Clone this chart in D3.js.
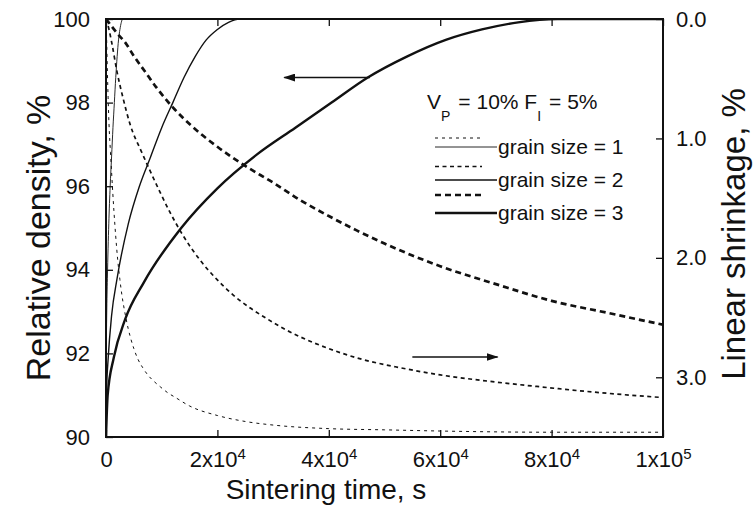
<!DOCTYPE html>
<html>
<head>
<meta charset="utf-8">
<script src="https://cdn.jsdelivr.net/npm/d3@7"></script>
<style>
  body { margin: 0; background: #fff; }
  text { font-family: "Liberation Sans", Arial, sans-serif; fill: #111; }
</style>
</head>
<body>
<svg id="chart" width="754" height="524"></svg>
<script>
// ---- data ----
var xTicks = [0, 20000, 40000, 60000, 80000, 100000];
var xTickBase = ["0", "2x10", "4x10", "6x10", "8x10", "1x10"];
var xTickExp = ["", "4", "4", "4", "4", "5"];
var densityTicks = [90, 92, 94, 96, 98, 100];
var shrinkTicks = [0, 1, 2, 3];
var shrinkTickLabels = ["0.0", "1.0", "2.0", "3.0"];
var legendLabels = ["grain size = 1", "grain size = 2", "grain size = 3"];

// relative density (%), left axis
var dens1Time = [0, 15, 50, 125, 250, 500, 750, 1000, 1250, 1500, 1750, 2000, 2250, 2500, 2750, 3000, 100000];
var dens1 = [90, 91.0, 91.9, 92.9, 93.8, 95.1, 96.0, 96.7, 97.4, 98.0, 98.6, 99.1, 99.5, 99.75, 99.92, 100, 100];
var dens2Time = [0, 100, 400, 1000, 2000, 4000, 6000, 8000, 10000, 12000, 14000, 16000, 18000, 20000, 22000, 24000, 100000];
var dens2 = [90, 91.1, 91.9, 92.9, 93.8, 95.1, 96.0, 96.7, 97.4, 98.0, 98.6, 99.1, 99.5, 99.75, 99.92, 100, 100];
var dens3Time = [0, 300, 1400, 3400, 6800, 13500, 20000, 27000, 34000, 40500, 47000, 54000, 61000, 67500, 74000, 81000, 100000];
var dens3 = [90, 91.0, 91.9, 92.8, 93.7, 95.0, 95.95, 96.75, 97.4, 98.0, 98.6, 99.1, 99.5, 99.75, 99.92, 100, 100];

// linear shrinkage (%), right axis
var shr1Time = [0, 60, 135, 250, 380, 540, 810, 990, 1210, 1440, 1730, 2110, 2490, 2850, 3240, 3610, 3970, 4350, 5000, 5750, 6600, 7500, 8750, 9750, 11100, 12500, 15000, 20000, 25000, 30000, 40000, 50000, 60000, 80000, 100000];
var shr1 = [0, 0.08, 0.21, 0.44, 0.66, 0.88, 1.12, 1.27, 1.45, 1.62, 1.81, 2.02, 2.18, 2.31, 2.42, 2.51, 2.59, 2.66, 2.76, 2.85, 2.92, 2.98, 3.04, 3.08, 3.13, 3.17, 3.24, 3.32, 3.37, 3.40, 3.43, 3.44, 3.45, 3.46, 3.46];
var shr2Time = [0, 500, 1080, 1970, 3050, 4310, 6460, 7900, 9700, 11500, 13800, 16900, 19900, 22800, 25900, 28900, 31800, 34800, 40000, 46000, 52800, 60000, 70000, 78000, 89000, 100000];
var shr2 = [0, 0.08, 0.21, 0.44, 0.66, 0.88, 1.12, 1.27, 1.45, 1.62, 1.81, 2.02, 2.18, 2.31, 2.42, 2.51, 2.59, 2.66, 2.76, 2.85, 2.92, 2.98, 3.04, 3.08, 3.13, 3.17];
var shr3Time = [0, 1000, 2000, 3500, 5000, 7000, 9000, 12000, 15000, 20000, 25000, 30000, 35000, 40000, 45000, 50000, 55000, 60000, 70000, 80000, 90000, 100000];
var shr3 = [0, 0.06, 0.12, 0.20, 0.31, 0.44, 0.57, 0.74, 0.88, 1.07, 1.23, 1.37, 1.52, 1.65, 1.77, 1.88, 1.98, 2.07, 2.22, 2.36, 2.46, 2.56];

// arrows: [t start, t end, value]
var densityArrow = [47400, 32000, 98.6];
var shrinkArrow = [55000, 70300, 2.83];

// ---- layout ----
var svg = d3.select("#chart");
var margin = { top: 19, right: 91, bottom: 87, left: 106 };
var W = 754, H = 524;
var x = d3.scaleLinear().domain([0, 100000]).range([margin.left, W - margin.right]);
var yL = d3.scaleLinear().domain([90, 100]).range([H - margin.bottom, margin.top]);
var yR = d3.scaleLinear().domain([0, 3.5]).range([margin.top, H - margin.bottom]);

var solidWidth = [0.9, 1.4, 2.4];
var dashWidth = [1.0, 1.7, 2.7];
var dashArray = ["3,4", "4,3.5", "6,4"];

svg.append("defs").append("marker")
    .attr("id", "head")
    .attr("viewBox", "0 0 12 8")
    .attr("refX", 11).attr("refY", 4)
    .attr("markerWidth", 12).attr("markerHeight", 8)
    .attr("markerUnits", "userSpaceOnUse")
    .attr("orient", "auto")
    .append("path").attr("d", "M0,0L12,4L0,8Z").attr("fill", "#111");

svg.select("defs").append("clipPath").attr("id", "plotclip")
    .append("rect")
    .attr("x", x(0)).attr("y", yL(100) - 1)
    .attr("width", x(100000) - x(0)).attr("height", yL(90) - yL(100) + 2);

// axes (ticks point inwards)
var gx = svg.append("g").attr("transform", "translate(0," + yL(90) + ")")
    .call(d3.axisBottom(x).tickValues(xTicks).tickSizeInner(-7).tickSizeOuter(0).tickPadding(14));
gx.selectAll(".tick text").each(function(d, i) {
    var t = d3.select(this);
    t.text(xTickBase[i]);
    if (xTickExp[i]) t.append("tspan").attr("dy", "-0.5em").attr("font-size", "15px").text(xTickExp[i]);
});

svg.append("g").attr("transform", "translate(0," + yL(100) + ")")
    .call(d3.axisTop(x).tickValues(xTicks).tickSizeInner(-7).tickSizeOuter(0).tickFormat(""));

svg.append("g").attr("transform", "translate(" + x(0) + ",0)")
    .call(d3.axisLeft(yL).tickValues(densityTicks).tickSizeInner(-7).tickSizeOuter(0).tickPadding(16));

svg.append("g").attr("transform", "translate(" + x(100000) + ",0)")
    .call(d3.axisRight(yR).tickValues(shrinkTicks).tickSizeInner(-7).tickSizeOuter(0).tickPadding(13)
        .tickFormat(function(d, i) { return shrinkTickLabels[i]; }));

svg.selectAll(".domain").remove();
svg.selectAll(".tick line").attr("stroke", "#111").attr("stroke-width", 1.3);
svg.selectAll(".tick text").attr("font-size", "22px").attr("fill", "#111")
    .style("font-family", "'Liberation Sans', Arial, sans-serif");

// frame
svg.append("rect")
    .attr("x", x(0)).attr("y", yL(100))
    .attr("width", x(100000) - x(0)).attr("height", yL(90) - yL(100))
    .attr("fill", "none").attr("stroke", "#111").attr("stroke-width", 2);

// curves
var plot = svg.append("g").attr("clip-path", "url(#plotclip)");
var densSeries = [[dens1Time, dens1], [dens2Time, dens2], [dens3Time, dens3]];
var shrSeries = [[shr1Time, shr1], [shr2Time, shr2], [shr3Time, shr3]];

var densLine = d3.line().x(function(d) { return x(d[0]); }).y(function(d) { return yL(d[1]); }).curve(d3.curveMonotoneX);
var shrLine = d3.line().x(function(d) { return x(d[0]); }).y(function(d) { return yR(d[1]); }).curve(d3.curveMonotoneX);

shrSeries.forEach(function(s, i) {
    plot.append("path")
        .datum(d3.zip(s[0], s[1]))
        .attr("d", shrLine)
        .attr("fill", "none").attr("stroke", "#111")
        .attr("stroke-width", dashWidth[i])
        .attr("stroke-dasharray", dashArray[i]);
});
densSeries.forEach(function(s, i) {
    plot.append("path")
        .datum(d3.zip(s[0], s[1]))
        .attr("d", densLine)
        .attr("fill", "none").attr("stroke", "#111")
        .attr("stroke-width", solidWidth[i]);
});

// arrows
svg.append("line")
    .attr("x1", x(densityArrow[0])).attr("x2", x(densityArrow[1]))
    .attr("y1", yL(densityArrow[2])).attr("y2", yL(densityArrow[2]))
    .attr("stroke", "#111").attr("stroke-width", 1.6).attr("marker-end", "url(#head)");
svg.append("line")
    .attr("x1", x(shrinkArrow[0])).attr("x2", x(shrinkArrow[1]))
    .attr("y1", yR(shrinkArrow[2])).attr("y2", yR(shrinkArrow[2]))
    .attr("stroke", "#111").attr("stroke-width", 1.6).attr("marker-end", "url(#head)");

// legend
var hdr = svg.append("text").attr("x", 427).attr("y", 109).attr("font-size", "21px");
hdr.append("tspan").text("V");
hdr.append("tspan").attr("dy", 12).attr("font-size", "14px").text("P");
hdr.append("tspan").attr("dy", -12).attr("dx", 8).text("= 10% F");
hdr.append("tspan").attr("dy", 12).attr("font-size", "14px").text("I");
hdr.append("tspan").attr("dy", -12).attr("dx", 8).text("= 5%");

var leg = svg.append("g");
legendLabels.forEach(function(lab, i) {
    var ry = 147 + i * 33;
    leg.append("line").attr("x1", 435).attr("x2", 482)
        .attr("y1", ry - 9 - i * 4.5).attr("y2", ry - 9 - i * 4.5)
        .attr("stroke", "#111").attr("stroke-width", dashWidth[i]).attr("stroke-dasharray", dashArray[i]);
    leg.append("line").attr("x1", 435).attr("x2", 497)
        .attr("y1", ry).attr("y2", ry)
        .attr("stroke", "#111").attr("stroke-width", solidWidth[i]);
    leg.append("text").attr("x", 498).attr("y", ry + 7).attr("font-size", "21px").text(lab);
});

// axis titles
svg.append("text").attr("x", 326).attr("y", 499).attr("text-anchor", "middle")
    .attr("font-size", "28px").text("Sintering time, s");
svg.append("text").attr("transform", "translate(50,238) rotate(-90)").attr("text-anchor", "middle")
    .attr("font-size", "34px").text("Relative density, %");
svg.append("text").attr("transform", "translate(745,234) rotate(-90)").attr("text-anchor", "middle")
    .attr("font-size", "33px").text("Linear shrinkage, %");
</script>
</body>
</html>
